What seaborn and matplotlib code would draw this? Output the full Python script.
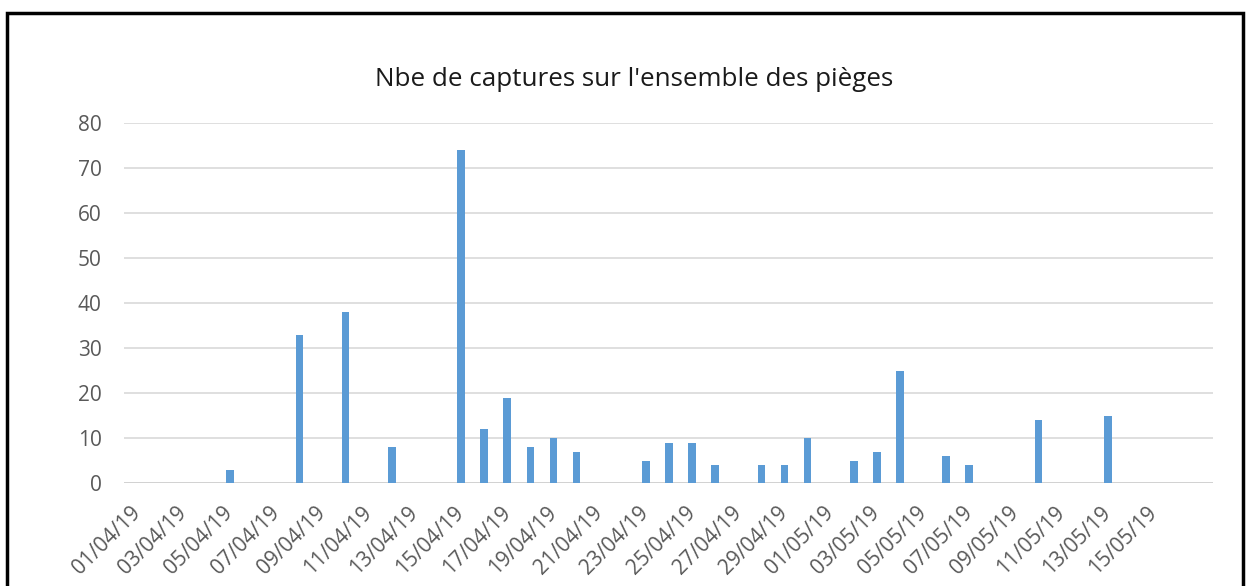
import matplotlib
matplotlib.use("Agg")
import matplotlib.pyplot as plt
import seaborn as sns
import pandas as pd

# ---- data ----
dates = ['05/04/19', '08/04/19', '10/04/19', '12/04/19', '15/04/19', '16/04/19',
         '17/04/19', '18/04/19', '19/04/19', '20/04/19', '23/04/19', '24/04/19',
         '25/04/19', '26/04/19', '28/04/19', '29/04/19', '30/04/19', '02/05/19',
         '03/05/19', '04/05/19', '06/05/19', '07/05/19', '10/05/19', '13/05/19']
counts = [3, 33, 38, 8, 74, 12, 19, 8, 10, 7, 5, 9, 9, 4, 4, 4, 10, 5, 7, 25, 6, 4, 14, 15]
day_range = ('2019-04-01', '2019-05-17')
title = "Nbe de captures sur l'ensemble des pièges"
yticks = [0, 10, 20, 30, 40, 50, 60, 70, 80]

all_days = list(pd.date_range(*day_range).strftime('%d/%m/%y'))
df = pd.DataFrame({'date': dates, 'captures': counts})

sns.set_theme(style="white")
plt.rcParams['font.family'] = ['Open Sans', 'DejaVu Sans']

W, H = 1249, 586
fig = plt.figure(figsize=(W / 100, H / 100), dpi=100)
fig.patch.set_facecolor('white')
ax = fig.add_axes([124 / W, (H - 483) / H, (1213 - 124) / W, (483 - 123.3) / H])

sns.barplot(data=df, x='date', y='captures', order=all_days, color='#5B9BD5',
            saturation=1, width=0.33, errorbar=None, ax=ax, zorder=3,
            linewidth=0)

ax.set_xlim(-0.59, 46.55)
ax.set_ylim(0, 80)
ax.set_yticks(yticks)
ax.set_yticklabels([str(v) for v in yticks], fontsize=15, color='#595959')
ax.grid(axis='y', color='#d9d9d9', linewidth=1.2, zorder=0)
ax.grid(axis='x', visible=False)
for s in ax.spines.values():
    s.set_visible(False)
ax.axhline(0, color='#d0d0d0', linewidth=1.2, zorder=2)

tick_pos = list(range(0, 45, 2))
ax.set_xticks(tick_pos)
ax.set_xticklabels([all_days[i] for i in tick_pos], rotation=45, ha='right',
                   va='center', rotation_mode='anchor', fontsize=15, color='#595959')
ax.tick_params(axis='x', length=0, pad=19)
ax.tick_params(axis='y', length=0, pad=16)
ax.set_xlabel('')
ax.set_ylabel('')

fig.text(634 / W, (H - 79) / H, title, ha='center', va='center', fontsize=18.7,
         color='#1a1a1a')

# outer frame
frame = plt.Rectangle((6.5 / W, -0.05), (1243 - 6.5) / W, (H - 12.5) / H + 0.05,
                      transform=fig.transFigure, fill=False, edgecolor='black',
                      linewidth=2.5, clip_on=False)
fig.patches.append(frame)

fig.savefig('out.png', dpi=100)
